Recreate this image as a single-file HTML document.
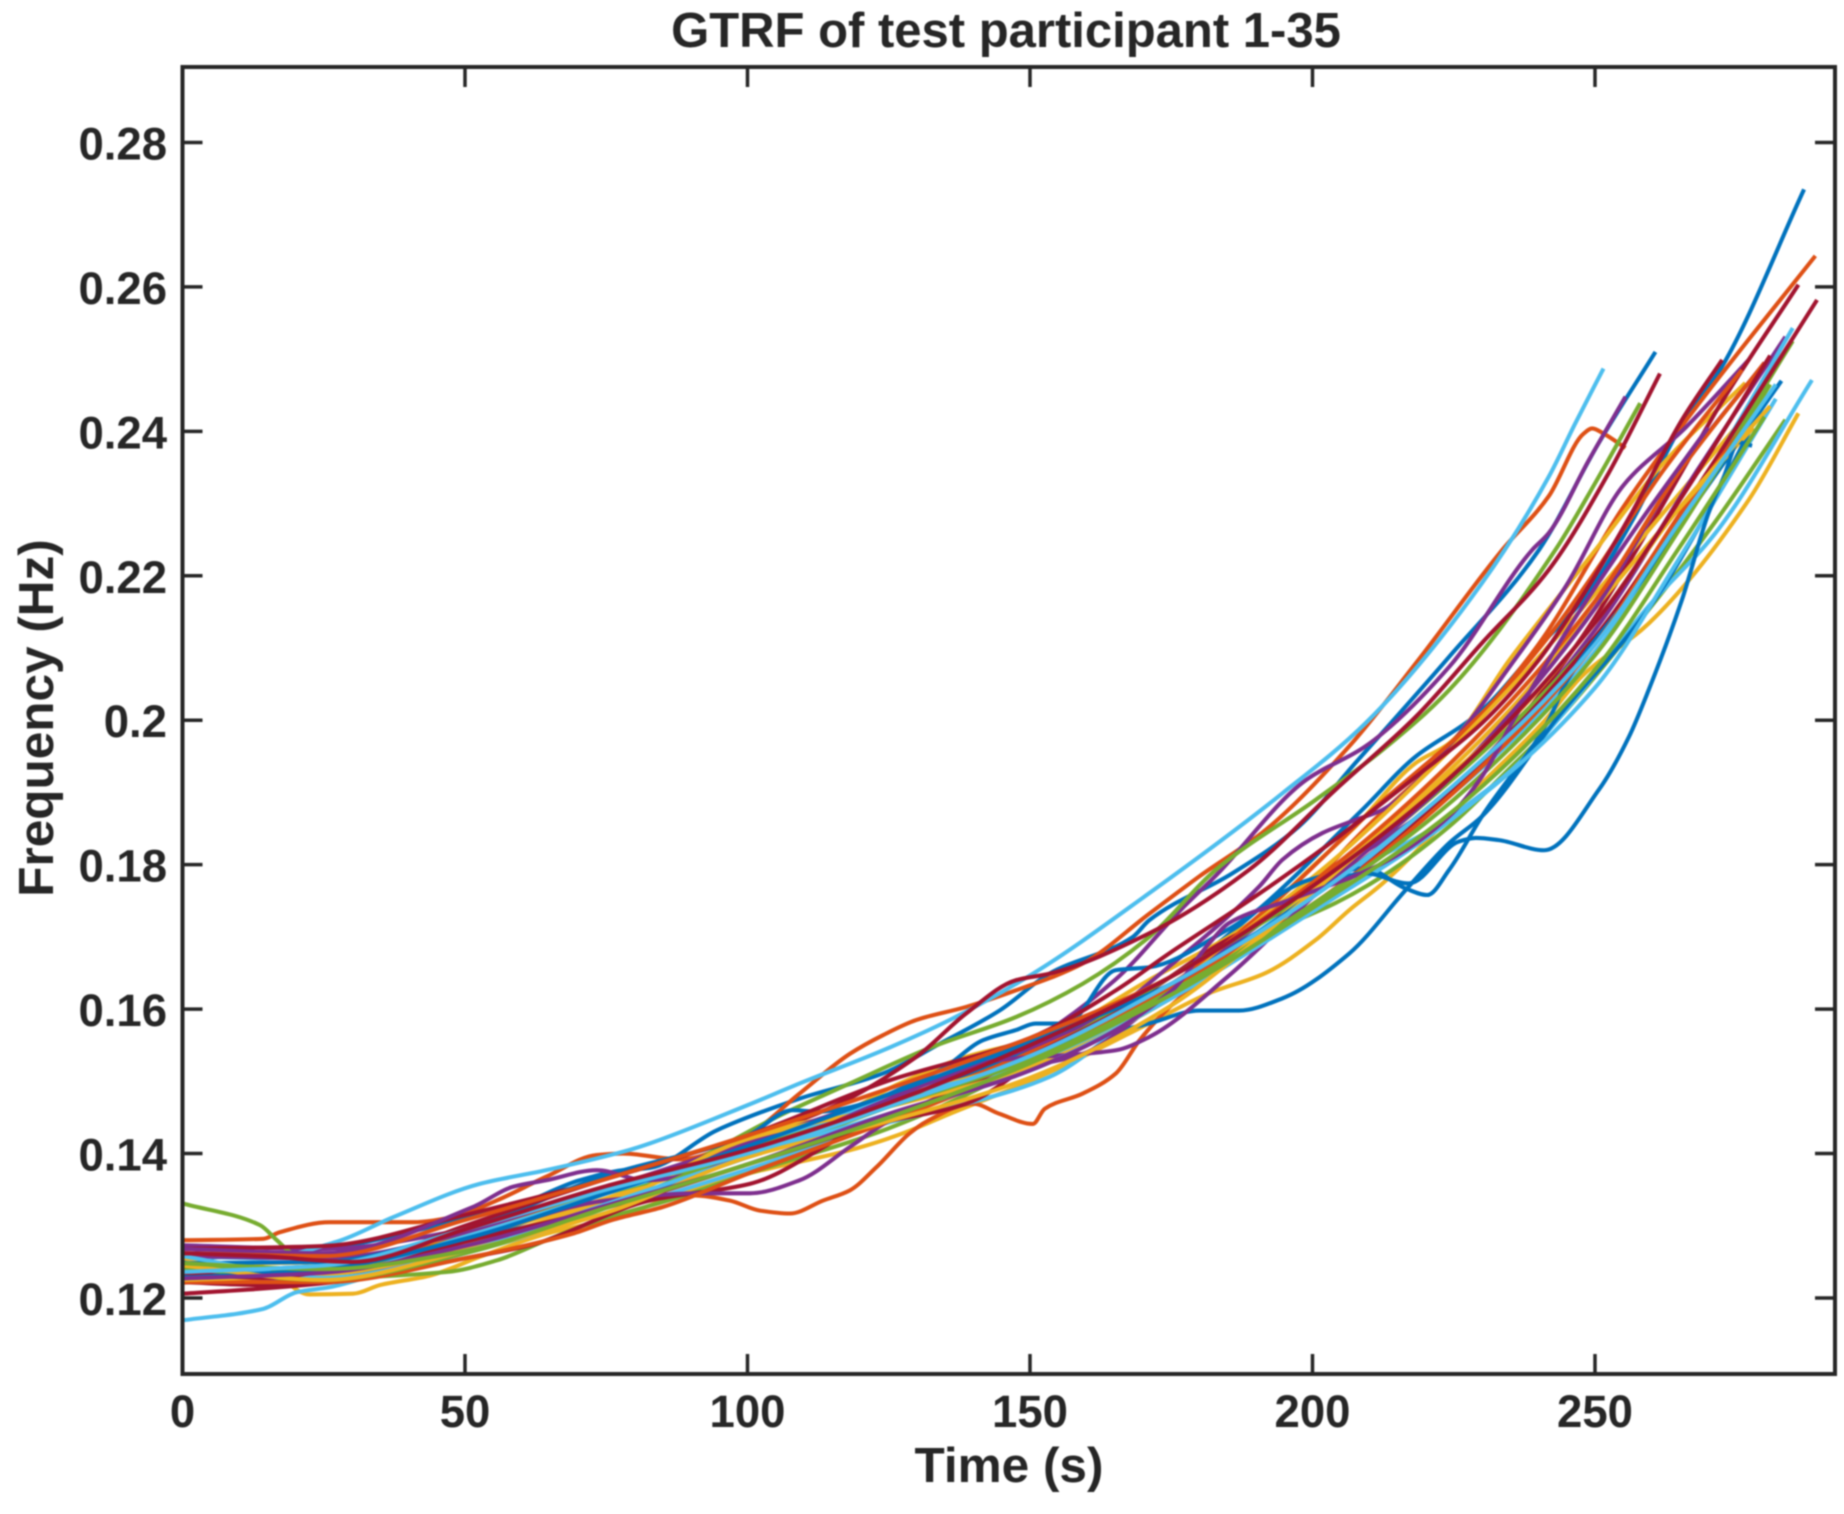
<!DOCTYPE html>
<html lang="en">
<head>
<meta charset="utf-8">
<title>GTRF of test participant 1-35</title>
<style>
html,body{margin:0;padding:0;background:#fff;}
svg{display:block;filter:blur(0.7px);}
text{font-family:"Liberation Sans",sans-serif;font-weight:bold;fill:#262626;}
</style>
</head>
<body>
<svg id="chart" xmlns="http://www.w3.org/2000/svg" width="1844" height="1514" viewBox="0 0 1844 1514">
  <rect x="0" y="0" width="1844" height="1514" fill="#ffffff"/>
  <g id="lines"></g>
  <g id="ticks"></g>
  <rect x="182.5" y="67" width="1652.5" height="1307" fill="none" stroke="#262626" stroke-width="4"/>
  <text x="1006" y="47" font-size="49" text-anchor="middle">GTRF of test participant 1-35</text>
  <text x="1009" y="1482" font-size="49.5" text-anchor="middle">Time (s)</text>
  <text x="53" y="718" font-size="49.5" text-anchor="middle" transform="rotate(-90 53 718)">Frequency (Hz)</text>
</svg>
<script>
const xTickValues = [0, 50, 100, 150, 200, 250];
const xTickLabels = ['0', '50', '100', '150', '200', '250'];
const yTickValues = [0.12, 0.14, 0.16, 0.18, 0.2, 0.22, 0.24, 0.26, 0.28];
const yTickLabels = ['0.12', '0.14', '0.16', '0.18', '0.2', '0.22', '0.24', '0.26', '0.28'];
const lineColors = ['#0072BD', '#DE5015', '#EDB120', '#7E2F8E', '#77AC30', '#4DBEEE', '#A2142F'];

const seriesTimes = [
[0,25,50,58.5,70.3,78,82.7,94.5,109.2,124,134,144.6,153.4,168.2,171.1,185.8,197.6,207.6,224.2,240.1,250.6,260.7],
[0,14.3,17.2,26.1,40.8,47.9,55.6,64.4,73.3,78,88,100.4,109.2,118.1,124,129.9,138.7,147.5,159.3,171.1,180,191.7,206.5,218.3,233.6,241.8,248,249.5,251.5,255.4],
[0,14,22.5,30.2,35,43.8,52.6,64.4,76,88.6,100,119.2,127.5,135.8,147.5,159.3,171,181.7,191.7,200.6,206.5,212.4,230,240.7,247.7,259.5,277.2,286],
[0,25,50,75,100,125,150,165,177,182.9,198.8,209.4,224.2,238.9,241.8,248.9,255.4],
[0,13.7,16.7,19.6,25,50,75,106.3,118.1,132.8,147.5,159.3,171.1,182.9,200.6,212.4,224.2,243,250,258],
[0,14,27.3,37.3,52.6,64.4,79.1,82.7,100,109.2,124,135.8,150.5,171,194.7,209.4,230,241.8,246.5,251.5],
[0,25,50,75,97.4,112.2,129.9,138.7,147.5,153.4,171.1,188.8,204.1,218.3,230,241.8,252.4,261.5],

[0,25,50,75,100,125,150,175,190,208.8,218.3,227.1,230,240.7,247.7,256.5,265.4,272.5,287],
[0,14,25,50,65,75,90.4,96.8,102.2,107.5,113.4,118.1,122.8,128.7,131.6,139.9,144.6,150.5,152.6,159.3,165.2,169.4,175,183,195,210,225,240,255,270,289],
[0,25,50,75,88.6,94.5,106.3,115,126.9,138.7,153.4,171,190,199.4,207.6,218.3,224.2,235,250,262,276.6],
[0,25,50,75,100,125,150,165,174,190.6,194.7,201.8,207.6,212.4,224.2,235.9,244.8,255,266,277.2],
[0,25,46.7,55.6,64.4,72,88,100,125,150,171.1,177,194.7,204.1,212.4,224.2,235.9,241.8,260.7,271.3,283.7],
[0,14.3,20.2,26.1,35,50,75,100,124,138.7,153.4,171,190,200.6,221.2,230,235.9,245.4,259.5,271.3,288.4],
[0,14,30,50,61.5,82.7,100.4,121,138.7,153.4,171.1,182.9,199.4,206.5,224.2,233,247.7,256.5,265.4,272,286],

[0,25,50,75,100,125,150,171,180,187,194.7,206.5,216.5,224.2,230,243,260,270,278],
[0,25,50,75,100,125,150,175,195,209.4,230,241.8,250,262,276],
[0,25,50,75,100,125,150,175,190,205,220,235,250,264,280.1],
[0,25,50,75,91.5,100.4,109.2,118.1,125,150,159.3,171,185,200,225,250,268,283.7],
[0,25,50,75,100,125,150,175,200,225,250,265,285],
[0,25,50,75,100,125,150,175,200,225,250,268,285],
[0,14,30,50,75,100,125,150,175,200,225,250,270,289.3],

[0,25,50,75,100,108,112.2,134,141.7,147.5,151,156.4,165.2,171.1,185,199.4,209.4,216.5,220.3,224.2,230,241.8,244.8,257,270,283],
[0,25,50,69,76,85,100,125,150,175,200,225,250,265,280],
[0,25,50,75,100,125,150,175,190,205,220,235,250,264,278],
[0,25,51.4,58.5,64.4,73.3,82,100,125,145,159.3,165.2,171,185,200,225,250,265,280],
[0,25,50,75,100,125,150,175,200,225,250,265,281],
[0,25,50,75,100,125,150,175,200,225,250,265,282],
[0,14,30,50,75,100,125,150,165,174.6,190.6,202.3,218.3,230,240.1,247.7,256.5,265.4,272.5],

[0,25,50,75,100,125,150,175,190,209.4,217,225.9,228.9,233,241,250.7,256,259.5,265.4,270.1,272.8,275.4,277.8],
[0,25,50,75,100,125,150,175,200,225,250,265,280],
[0,25,50,75,100,125,150,175,190,205,220,235,250,264,281],
[0,25,50,75,100,125,150,175,181.7,185.2,195.9,212.4,224.2,230,235.9,244.8,258,270],
[0,25,50,75,100,125,150,175,200,225,250,265,280],
[0,25,50,75,100,125,150,175,200,225,250,265,282],
[0,14,30,50,75,100,125,150,175,200,225,250,265,281]
];

const seriesValues = [
[.1253,.1268,.131,.1326,.1363,.1377,.138,.1432,.1476,.1511,.1552,.1598,.1649,.17,.1723,.1788,.1853,.1941,.2088,.2236,.2383,.251],
[.128,.1282,.1291,.1305,.1305,.1312,.1335,.1368,.1398,.14,.1392,.1428,.1483,.1538,.1564,.1585,.1603,.1626,.1663,.1732,.1784,.1848,.1964,.2079,.2236,.231,.2397,.2404,.2397,.2377],
[.1247,.1243,.1205,.1206,.1218,.1231,.1257,.1289,.131,.1345,.1372,.1407,.1428,.1455,.1492,.1534,.158,.1622,.165,.1696,.1737,.1774,.1913,.1996,.2061,.2134,.2305,.2425],
[.1273,.1268,.1295,.1345,.1405,.147,.1555,.164,.174,.1785,.1917,.1964,.2074,.2236,.2259,.236,.2448],
[.1331,.1301,.128,.1261,.1252,.1275,.133,.1455,.1497,.1548,.1589,.1635,.17,.1793,.189,.1959,.2042,.2236,.2328,.2439],
[.1258,.1255,.1278,.1312,.1358,.1377,.1405,.1414,.1467,.1497,.1543,.1585,.1649,.176,.1899,.1996,.219,.2337,.2411,.2487],
[.1268,.1272,.1315,.1365,.1418,.1455,.1534,.1594,.164,.1649,.1705,.1793,.1904,.2005,.2107,.2208,.2342,.248],

[.1236,.1245,.128,.1345,.141,.1478,.155,.1645,.1735,.1876,.195,.1996,.2014,.2107,.2165,.2275,.241,.249,.2735],
[.1221,.123,.1245,.1285,.1315,.1335,.1342,.1335,.1321,.1317,.1335,.1349,.1381,.1428,.1444,.1469,.1455,.1441,.1462,.1483,.1511,.1557,.1605,.1655,.1735,.1855,.1965,.2105,.2295,.2455,.2643],
[.1247,.125,.1285,.1338,.1377,.1395,.1437,.1451,.1497,.1534,.1564,.164,.1725,.1793,.1853,.1941,.1968,.2085,.2235,.2355,.2467],
[.1258,.1255,.129,.1352,.1415,.148,.1545,.16,.1655,.177,.1807,.1844,.1862,.1876,.1965,.2085,.2185,.2325,.2405,.2499],
[.1248,.1228,.1236,.1252,.128,.1303,.134,.1372,.1435,.1525,.1617,.164,.1714,.1747,.1784,.1853,.1941,.1987,.2165,.2275,.2416],
[.1169,.1185,.1208,.1215,.1234,.1262,.1318,.1378,.1441,.1469,.1506,.1605,.1705,.1765,.185,.1898,.1936,.2019,.2158,.2259,.2471],
[.1206,.1213,.1225,.1255,.1273,.1335,.1358,.1437,.1469,.1543,.1625,.1687,.1756,.1793,.1904,.1968,.2115,.2225,.2345,.2435,.2603],

[.123,.1232,.127,.133,.1395,.1465,.154,.158,.1598,.1598,.1615,.1677,.1765,.183,.1867,.2,.216,.229,.241],
[.1222,.1238,.1285,.1348,.1405,.1465,.154,.1635,.176,.1867,.201,.2116,.2205,.2345,.2485],
[.1255,.1235,.1275,.1335,.1408,.1475,.153,.163,.172,.1815,.1925,.2045,.2175,.2305,.2453],
[.1227,.1222,.128,.1335,.1345,.1345,.1363,.1409,.1445,.152,.1538,.16,.1685,.177,.1905,.2125,.2345,.2531],
[.1242,.1235,.1285,.1345,.1395,.1465,.1535,.1645,.1765,.192,.2115,.2275,.2525],
[.1236,.1232,.1285,.1345,.1405,.1475,.1525,.162,.1755,.19,.2095,.2315,.2543],
[.1222,.1218,.1235,.1278,.1325,.1385,.145,.1535,.1635,.1745,.1905,.2115,.2345,.2582],

[.1248,.125,.1295,.137,.1425,.146,.1458,.1515,.1557,.1571,.158,.158,.1654,.1658,.171,.1779,.1795,.1767,.1758,.1793,.1867,.2,.2051,.218,.2325,.247],
[.1222,.1222,.1255,.1289,.1308,.1326,.1372,.1445,.1525,.163,.1745,.19,.2105,.2285,.2445],
[.1225,.1232,.127,.1328,.142,.1465,.152,.1615,.17,.18,.19,.2015,.2155,.2285,.2405],
[.1268,.1262,.1326,.1354,.1363,.1377,.1363,.1395,.1475,.153,.1538,.1543,.1561,.1645,.1755,.1925,.2155,.2345,.2495],
[.1242,.1225,.1262,.1325,.1405,.1465,.153,.1625,.1745,.189,.209,.2265,.2465],
[.1258,.1228,.1265,.133,.1395,.1455,.1515,.1615,.1735,.1865,.2045,.2225,.2445],
[.1235,.1228,.1245,.13,.1365,.1425,.1501,.156,.1625,.1677,.176,.1825,.1922,.1996,.2084,.2171,.2287,.2416,.2499],

[.1228,.124,.1282,.1345,.141,.1482,.1555,.1635,.1705,.1788,.1774,.1832,.1837,.1834,.182,.1904,.1977,.2042,.2167,.2287,.2337,.2385,.238],
[.1262,.1258,.1308,.1365,.1425,.149,.156,.1645,.1775,.1945,.2165,.2345,.2495],
[.1245,.1225,.1265,.1318,.1395,.1445,.1505,.1605,.1695,.1795,.1895,.2,.2135,.2285,.2435],
[.1227,.1235,.1272,.1328,.1385,.1455,.1515,.1625,.1691,.1719,.1751,.1802,.1867,.1922,.2005,.2121,.2275,.2405],
[.1248,.124,.1265,.1325,.1385,.145,.1525,.162,.174,.1875,.207,.224,.242],
[.1236,.1245,.1295,.135,.14,.1465,.1535,.1635,.1755,.191,.2105,.2275,.2465],
[.1262,.1258,.125,.1295,.1355,.1405,.147,.155,.1645,.177,.1925,.2135,.2305,.2505]
];

const SVG_NS = 'http://www.w3.org/2000/svg';
const PLOT = { left: 182.5, right: 1835, top: 67, bottom: 1374 };

function xScale(t) {
  return 182.5 + t * 5.65;
}
function yScale(v) {
  return 1298 - (v - 0.12) * 7222;
}

/* monotone cubic through the points, so sharp kinks do not overshoot */
function smoothPath(times, values) {
  const xs = times.map(xScale);
  const ys = values.map(yScale);
  const n = xs.length;
  const secant = [];
  for (let i = 0; i < n - 1; i++) {
    secant.push((ys[i + 1] - ys[i]) / (xs[i + 1] - xs[i]));
  }
  const slope = [secant[0]];
  for (let i = 1; i < n - 1; i++) {
    if (secant[i - 1] * secant[i] <= 0) {
      slope.push(0);
    } else {
      const h0 = xs[i] - xs[i - 1];
      const h1 = xs[i + 1] - xs[i];
      const w1 = 2 * h1 + h0;
      const w2 = h1 + 2 * h0;
      slope.push((w1 + w2) / (w1 / secant[i - 1] + w2 / secant[i]));
    }
  }
  slope.push(secant[n - 2]);
  let d = 'M' + xs[0].toFixed(2) + ' ' + ys[0].toFixed(2);
  for (let i = 0; i < n - 1; i++) {
    const h = (xs[i + 1] - xs[i]) / 3;
    d += 'C' + (xs[i] + h).toFixed(2) + ' ' + (ys[i] + slope[i] * h).toFixed(2) + ' ' +
         (xs[i + 1] - h).toFixed(2) + ' ' + (ys[i + 1] - slope[i + 1] * h).toFixed(2) + ' ' +
         xs[i + 1].toFixed(2) + ' ' + ys[i + 1].toFixed(2);
  }
  return d;
}

const linesGroup = document.getElementById('lines');
seriesValues.forEach(function (values, i) {
  const el = document.createElementNS(SVG_NS, 'path');
  el.setAttribute('d', smoothPath(seriesTimes[i], values));
  el.setAttribute('fill', 'none');
  el.setAttribute('stroke', lineColors[i % lineColors.length]);
  el.setAttribute('stroke-width', '4.1');
  el.setAttribute('stroke-linejoin', 'round');
  
  
  linesGroup.appendChild(el);
});

const ticksGroup = document.getElementById('ticks');
const TICK_LEN = 20;

function addTick(x1, y1, x2, y2, name) {
  const el = document.createElementNS(SVG_NS, 'line');
  el.setAttribute('x1', x1);
  el.setAttribute('y1', y1);
  el.setAttribute('x2', x2);
  el.setAttribute('y2', y2);
  el.setAttribute('stroke', '#262626');
  el.setAttribute('stroke-width', '3.5');
  
  
  ticksGroup.appendChild(el);
}

function addLabel(x, y, text, anchor, name) {
  const el = document.createElementNS(SVG_NS, 'text');
  el.setAttribute('x', x);
  el.setAttribute('y', y);
  el.setAttribute('font-size', '45.5');
  el.setAttribute('text-anchor', anchor);
  el.textContent = text;
  
  
  ticksGroup.appendChild(el);
}

xTickValues.forEach(function (v, i) {
  const x = xScale(v);
  addTick(x, PLOT.bottom, x, PLOT.bottom - TICK_LEN, 'x-tick-bottom');
  addTick(x, PLOT.top, x, PLOT.top + TICK_LEN, 'x-tick-top');
  addLabel(x, 1427, xTickLabels[i], 'middle', 'x-tick-label');
});

yTickValues.forEach(function (v, i) {
  const y = yScale(v);
  addTick(PLOT.left, y, PLOT.left + TICK_LEN, y, 'y-tick-left');
  addTick(PLOT.right, y, PLOT.right - TICK_LEN, y, 'y-tick-right');
  addLabel(167, y + 17, yTickLabels[i], 'end', 'y-tick-label');
});
</script>
</body>
</html>
